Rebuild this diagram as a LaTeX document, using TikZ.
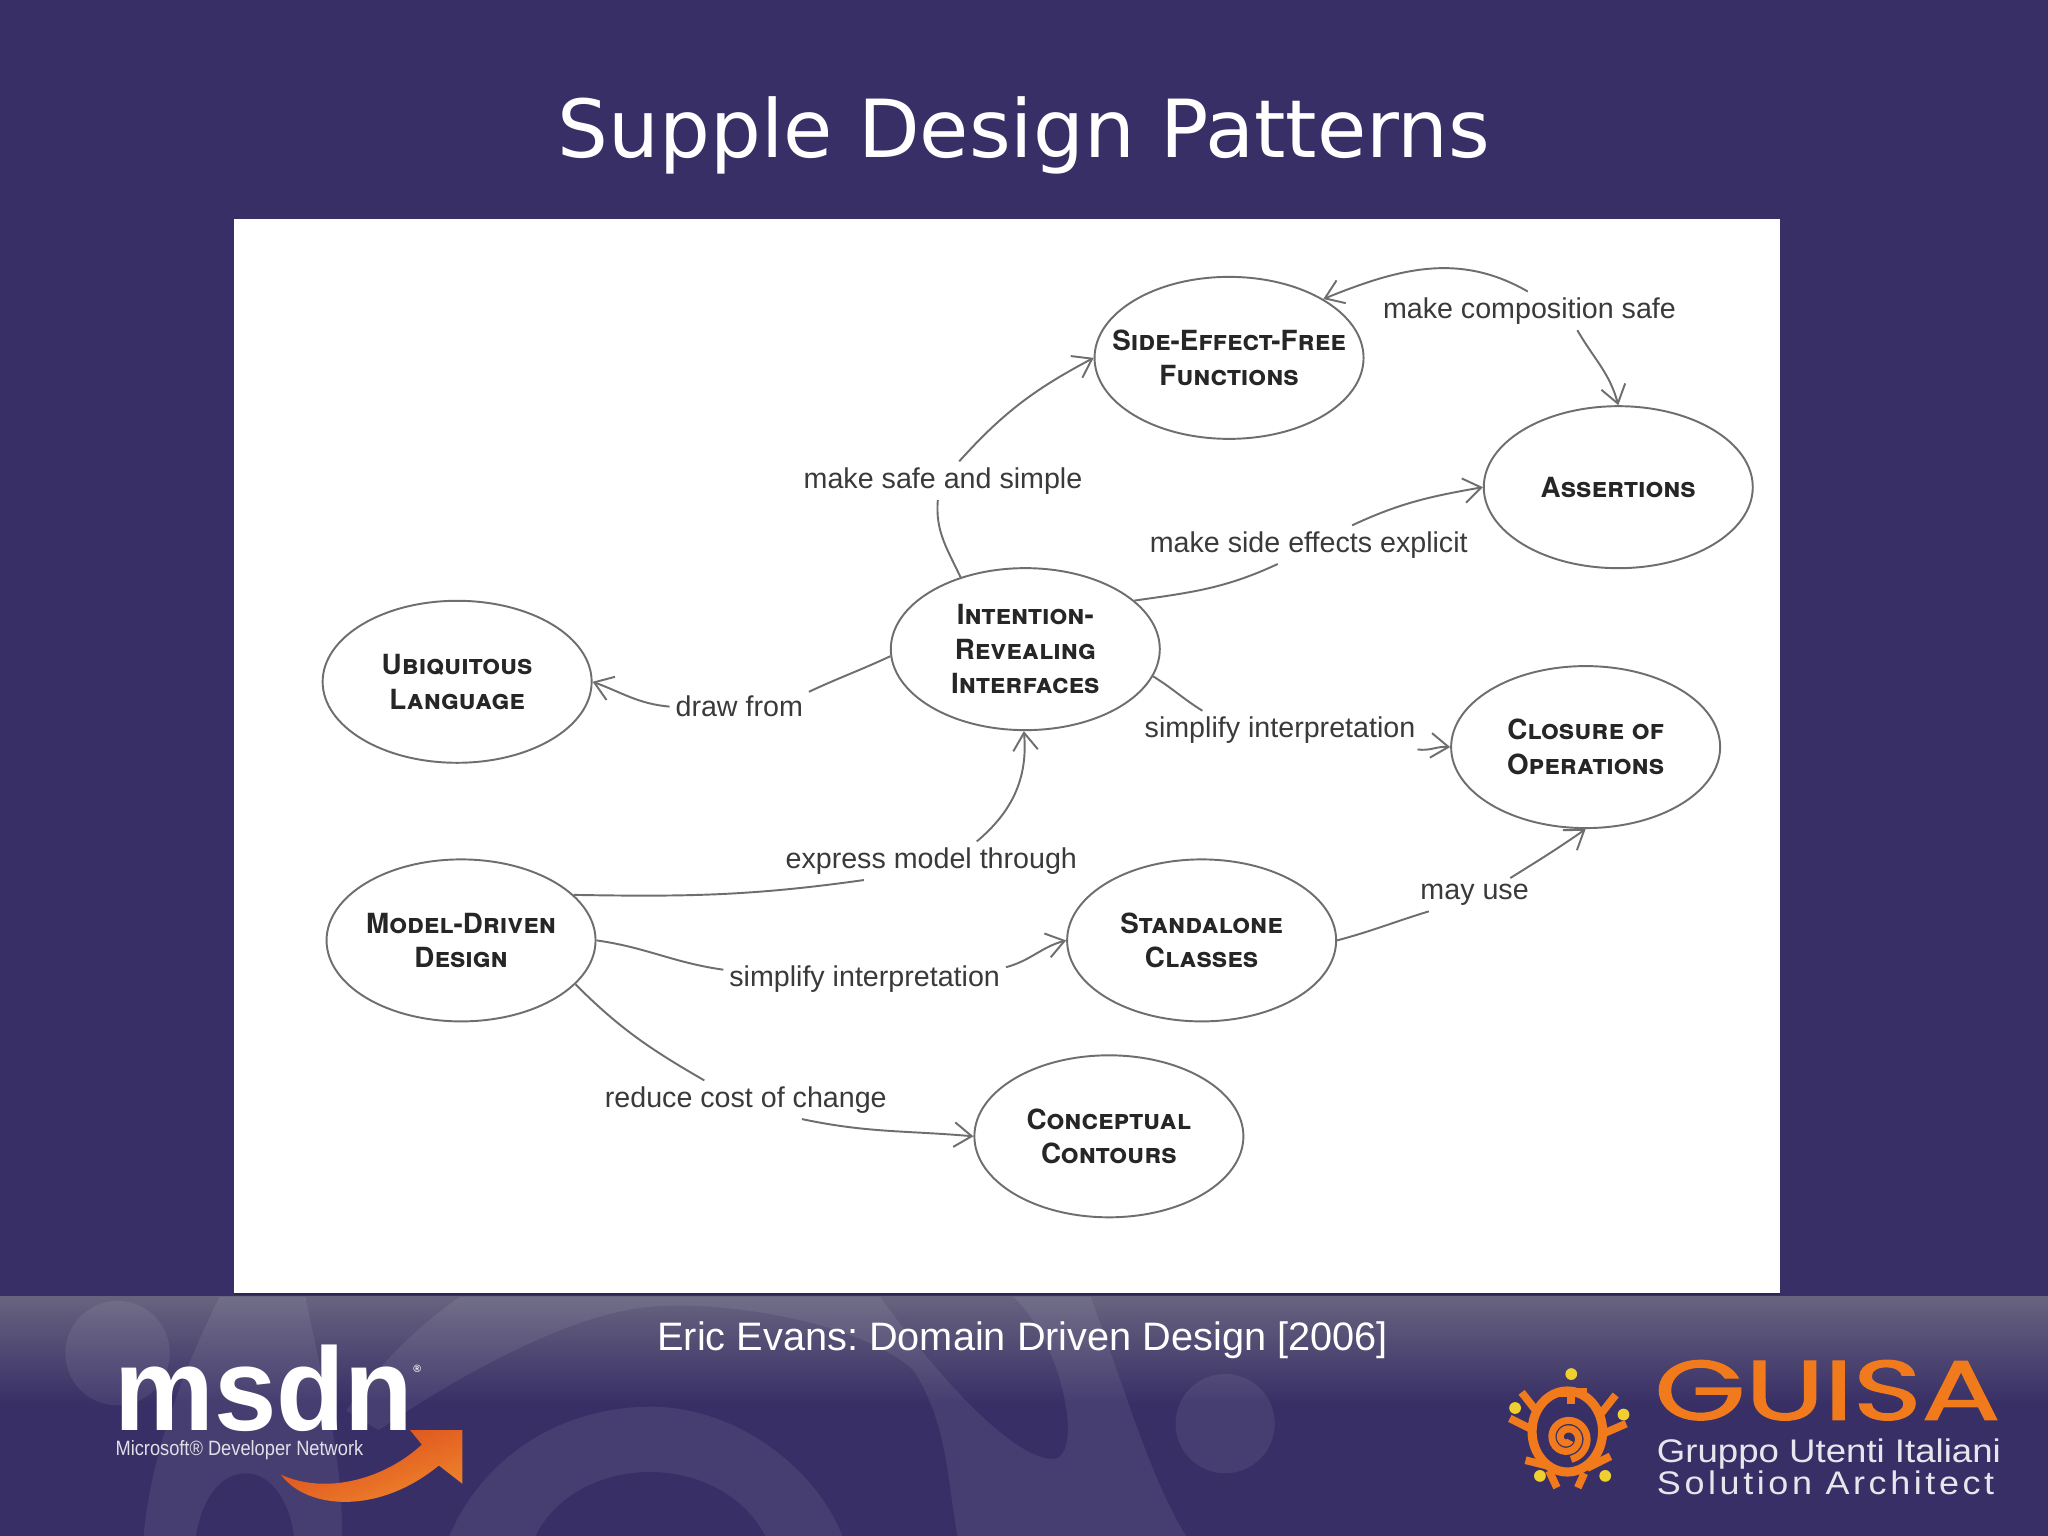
\documentclass[tikz,border=0pt]{standalone}
\usepackage{fontspec}
\setmainfont{Liberation Sans}
\setsansfont{TeX Gyre Heros}
\newfontfamily\titlefont{DejaVu Sans}
\newfontfamily\guisafont[FakeBold=1.5]{Poppins}
\usepackage{tikz}
\usetikzlibrary{arrows.meta,shapes.geometric}
\definecolor{slidebg}{HTML}{382F66}
\definecolor{stripetop}{HTML}{67637F}
\definecolor{inkgray}{HTML}{3A3A3A}
\definecolor{linegray}{HTML}{6E6E6E}
\definecolor{guisaorange}{HTML}{F07A1C}
\definecolor{dotyellow}{HTML}{F0D030}
\definecolor{arrowred}{HTML}{D9481A}
\definecolor{arrowamber}{HTML}{F28A2E}
\frenchspacing
\tikzset{
	pattern/.style={draw=linegray, line width=0.55pt, ellipse, minimum width=2.69cm, minimum height=1.62cm, inner xsep=-8pt, inner ysep=0pt, align=center, text=black!85, font=\sffamily\bfseries\scshape\fontsize{7.9}{9.85}\selectfont},
	rel/.style={text=inkgray, inner sep=1.5pt, font=\fontsize{8.15}{9.6}\selectfont},
	link/.style={draw=linegray, line width=0.55pt},
	linkto/.style={link, -{Straight Barb[length=5pt,width=7pt,line width=0.55pt]}},
	swirl/.style={white, opacity=0.07},
	logo/.style={inner sep=0pt, anchor=base west, transform shape}
}
\begin{document}
\begin{tikzpicture}[x=0.0130612cm,y=-0.0130612cm]
	\useasboundingbox (0,0) rectangle (1568,1176);
	% slide and footer
	\fill[slidebg] (0,0) rectangle (1568,1176);
	\shade[top color=stripetop, bottom color=slidebg] (0,993) rectangle (1568,1075);
	\begin{scope}
		\clip (0,993) rectangle (1568,1176);
		\fill[swirl] (90,1036) circle (40);
		\fill[swirl] (938,1090) circle (38);
		% band on the left, and the arch it ends in
		\fill[swirl] (168,993) .. controls (135,1060) and (115,1120) .. (110,1176) -- (150,1176) .. controls (155,1145) and (170,1128) .. (188,1128) .. controls (208,1128) and (222,1150) .. (225,1176) -- (262,1176) .. controls (262,1110) and (245,1050) .. (234,993) -- cycle;
		% arch low in the middle
		\fill[swirl] (344,1176) .. controls (370,1115) and (430,1077) .. (498,1077) .. controls (565,1077) and (625,1125) .. (645,1176) -- (586,1176) .. controls (570,1145) and (535,1127) .. (498,1127) .. controls (460,1127) and (425,1145) .. (410,1176) -- cycle;
		% big forked band
		\fill[swirl] (733,1176) .. controls (725,1130) and (725,1090) .. (700,1050) .. controls (660,1010) and (530,990) .. (476,1004) .. controls (420,1015) and (340,1060) .. (290,1095) -- (265,1080) .. controls (290,1045) and (320,1015) .. (352,993) -- (674,993) .. controls (700,1030) and (770,1117) .. (806,1117) .. controls (830,1117) and (815,1030) .. (776,993) -- (835,993) .. controls (860,1060) and (880,1130) .. (908,1176) -- cycle;
	\end{scope}
	\node[text=white, font=\titlefont\fontsize{22.8}{26}\selectfont] (title) at (784,104) {Supple Design Patterns};
	\fill[white] (179,168) rectangle (1363,990);
	\draw[slidebg!80!black, line width=0.6pt] (179,991) -- (1363,991);
	\node[text=white, font=\fontsize{11.3}{13}\selectfont] (caption) at (783,1026) {Eric Evans: Domain Driven Design [2006]};

	% patterns
	\node[pattern] (side) at (941,274) {Side-Effect-Free\\Functions};
	\node[pattern] (assertions) at (1239,373) {Assertions};
	\node[pattern] (intention) at (785,497) {Intention-\\Revealing\\Interfaces};
	\node[pattern] (ubiquitous) at (350,522) {Ubiquitous\\Language};
	\node[pattern] (closure) at (1214,572) {Closure of\\Operations};
	\node[pattern] (model) at (353,720) {Model-Driven\\Design};
	\node[pattern] (standalone) at (920,720) {Standalone\\Classes};
	\node[pattern] (contours) at (849,870) {Conceptual\\Contours};

	% relation labels
	\node[rel] (safesimple) at (722,368) {make safe and simple};
	\node[rel] (sideeffects) at (1002,417) {make side effects explicit};
	\node[rel] (composition) at (1171,238) {make composition safe};
	\node[rel] (drawfrom) at (566,541) {draw from};
	\node[rel] (simplifyA) at (980,559) {simplify interpretation};
	\node[rel] (express) at (713,659) {express model through};
	\node[rel] (simplifyB) at (662,750) {simplify interpretation};
	\node[rel] (mayuse) at (1129,685) {may use};
	\node[rel] (reduce) at (571,842) {reduce cost of change};

	% connectors, each one broken by its label
	\draw[link] (intention.132) to [out=115, in=265] (safesimple.255);
	\draw[linkto] (safesimple.50) to [out=48, in=208] (side.180);
	\draw[link] (intention.24) to [out=8, in=205] (sideeffects.-148);
	\draw[linkto] (sideeffects.24) to [out=25, in=190] (assertions.180);
	\draw[linkto] (composition.95) to [out=150, in=22] (side.32);
	\draw[linkto] (composition.-22) to [out=-60, in=105] (assertions.90);
	\draw[link] (intention.183) to [out=205, in=25] (drawfrom.12);
	\draw[linkto] (drawfrom.180) to [out=175, in=-20] (ubiquitous.0);
	\draw[link] (intention.-12) to [out=-32, in=148] (simplifyA.166);
	\draw[linkto] (simplifyA.-8) to [out=-8, in=175] (closure.180);
	\draw[link] (model.22) to [out=-1, in=188] (express.196);
	\draw[linkto] (express.23) to [out=40, in=-85] (intention.269);
	\draw[link] (model.0) to [out=-8, in=172] (simplifyB.176);
	\draw[linkto] (simplifyB.5) to [out=15, in=195] (standalone.180);
	\draw[link] (standalone.0) to [out=15, in=197] (mayuse.200);
	\draw[linkto] (mayuse.25) to [out=32, in=215] (closure.270);
	\draw[link] (model.-21) to [out=-45, in=150] (reduce.155);
	\draw[linkto] (reduce.-19) to [out=-12, in=175] (contours.180);

	% msdn logo
	\node[logo, xscale=0.95, text=white, font=\bfseries\fontsize{33.6}{36}\selectfont] (msdn) at (87,1095) {msdn};
	\node[logo, text=white, font=\bfseries\fontsize{3}{4}\selectfont] (msdnreg) at (316,1051) {\textregistered};
	\node[logo, xscale=0.88, text=white!85!slidebg, font=\fontsize{5.9}{7}\selectfont] (msdnname) at (88,1114) {Microsoft\textregistered\ Developer Network};
	\shade[left color=arrowred, right color=arrowamber, shading angle=20] (215,1129) .. controls (235,1156) and (290,1160) .. (336,1122) -- (354,1136) -- (354,1095) -- (314,1095) -- (323,1106) .. controls (295,1132) and (250,1145) .. cycle;

	% guisa logo
	\foreach \dotx/\doty in {1203/1052, 1160/1078, 1243/1083, 1179/1130, 1229/1130}
		\fill[dotyellow] (\dotx,\doty) circle (4.5);
	\draw[guisaorange, line width=2.6pt] (1200,1096) ellipse (27 and 31);
	\draw[guisaorange, line width=2pt, smooth] plot[domain=40:800, samples=50] ({1200+(2+\x/55)*cos(\x)},{1101+(2+\x/55)*sin(\x)});
	\draw[guisaorange, line width=2.4pt] (1203,1075) -- (1203,1062) (1191,1066) -- (1215,1066);
	\draw[guisaorange, line width=2.2pt] (1176,1080) -- (1165,1066) (1174,1095) -- (1156,1086) (1226,1082) -- (1237,1068) (1229,1097) -- (1245,1090) (1184,1122) -- (1168,1118) (1186,1126) -- (1192,1139) (1215,1124) -- (1233,1115) (1213,1128) -- (1208,1139);
	\node[logo, xscale=1.385, text=guisaorange, font=\guisafont\fontsize{24}{26}\selectfont] (guisa) at (1266,1087) {GUISA};
	\node[logo, xscale=1.12, text=white!88!slidebg, font=\fontsize{9.3}{10}\selectfont] (gruppo) at (1268,1120) {Gruppo Utenti Italiani};
	\node[logo, xscale=1.1, text=white!88!slidebg, font=\addfontfeatures{LetterSpace=10}\fontsize{9.3}{10}\selectfont] (solution) at (1268,1144) {Solution Architect};
\end{tikzpicture}
\end{document}
